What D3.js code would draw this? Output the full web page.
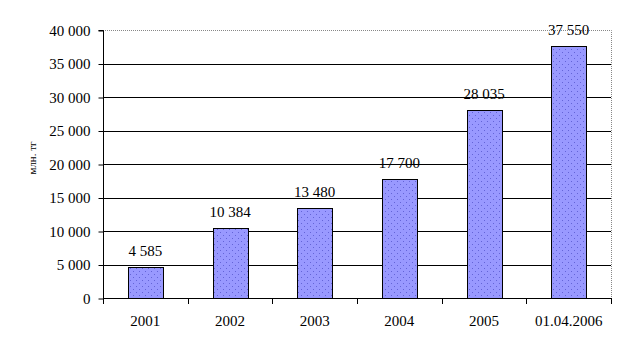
<html>
<head>
<style>
  body { margin: 0; padding: 0; background: white; }
  svg { display: block; }
</style>
<script src="https://cdn.jsdelivr.net/npm/d3@7"></script>
</head>
<body>
<svg width="627" height="352"></svg>
<script>
  const categories = ["2001", "2002", "2003", "2004", "2005", "01.04.2006"];
  const values = [4585, 10384, 13480, 17700, 28035, 37550];
  const valueLabels = ["4 585", "10 384", "13 480", "17 700", "28 035", "37 550"];
  const yTicks = [0, 5000, 10000, 15000, 20000, 25000, 30000, 35000, 40000];
  const yTitle = "млн. тг";

  const serif = "Liberation Serif, DejaVu Serif, serif";
  const svg = d3.select("svg");
  const plotL = 103, plotR = 611, plotT = 30, plotB = 298;

  // dotted fill like the old excel pattern
  const pat = svg.append("defs").append("pattern")
      .attr("id", "dots")
      .attr("patternUnits", "userSpaceOnUse")
      .attr("width", 6).attr("height", 6);
  pat.append("rect").attr("width", 6).attr("height", 6).attr("fill", "#9999ff");
  pat.append("rect").attr("x", 1).attr("y", 1).attr("width", 1).attr("height", 1).attr("fill", "#6464d8");
  pat.append("rect").attr("x", 4).attr("y", 4).attr("width", 1).attr("height", 1).attr("fill", "#6464d8");

  const x = d3.scaleBand().domain(categories).range([plotL, plotR]).paddingInner(0.59).paddingOuter(0.295);
  const y = d3.scaleLinear().domain([0, 40000]).range([plotB, plotT]);

  // grid lines
  svg.append("g").selectAll("line")
    .data(yTicks.filter(d => d > 0 && d < 40000))
    .join("line")
      .attr("x1", plotL).attr("x2", plotR)
      .attr("y1", d => Math.round(y(d)) + 0.5).attr("y2", d => Math.round(y(d)) + 0.5)
      .attr("stroke", "black");

  // dotted frame top and right
  svg.append("path")
    .attr("d", `M${plotL},${plotT + 0.5}H${plotR + 0.5}V${plotB}`)
    .attr("fill", "none")
    .attr("stroke", "#888")
    .attr("stroke-dasharray", "1,1");

  // bars
  svg.append("g").selectAll("rect")
    .data(values)
    .join("rect")
      .attr("x", (d, i) => Math.round(x(categories[i])) + 0.5)
      .attr("y", d => Math.round(y(d)) + 0.5)
      .attr("width", Math.round(x.bandwidth()))
      .attr("height", d => Math.round(y(0)) - Math.round(y(d)))
      .attr("fill", "url(#dots)")
      .attr("stroke", "black");

  // value labels
  svg.append("g").selectAll("text")
    .data(values)
    .join("text")
      .attr("x", (d, i) => x(categories[i]) + x.bandwidth() / 2)
      .attr("y", d => y(d) - 11)
      .attr("text-anchor", "middle")
      .attr("font-family", serif)
      .attr("font-size", 15)
      .text((d, i) => valueLabels[i]);

  // y axis
  const yAxis = d3.axisLeft(y).tickValues(yTicks).tickSize(5).tickPadding(8)
    .tickFormat(d => d3.format(",")(d).replace(/,/g, " "));
  const gy = svg.append("g").attr("transform", `translate(${plotL + 0.5},0.5)`).call(yAxis)
    .attr("font-family", serif).attr("font-size", 15);
  gy.select(".domain").attr("d", `M-5,${plotT}H0V${plotB}`).attr("stroke", "black");
  gy.selectAll(".tick line").attr("stroke", "black");
  gy.selectAll("text").attr("fill", "black");

  // x axis with ticks at category boundaries
  const step = x.step();
  const xb = svg.append("g");
  xb.append("line").attr("x1", plotL).attr("x2", plotR + 1)
    .attr("y1", plotB + 0.5).attr("y2", plotB + 0.5).attr("stroke", "black");
  xb.selectAll(".tk")
    .data(d3.range(categories.length + 1))
    .join("line")
      .attr("class", "tk")
      .attr("x1", i => Math.round(plotL + i * step) + 0.5).attr("x2", i => Math.round(plotL + i * step) + 0.5)
      .attr("y1", plotB).attr("y2", plotB + 6)
      .attr("stroke", "black");
  xb.selectAll("text")
    .data(categories)
    .join("text")
      .attr("x", d => x(d) + x.bandwidth() / 2)
      .attr("y", 326)
      .attr("text-anchor", "middle")
      .attr("font-family", serif)
      .attr("font-size", 15)
      .text(d => d);

  // y title
  svg.append("text")
    .attr("transform", "translate(36,158) rotate(-90)")
    .attr("text-anchor", "middle")
    .attr("font-family", serif)
    .attr("font-size", 11)
    .text(yTitle);
</script>
</body>
</html>
